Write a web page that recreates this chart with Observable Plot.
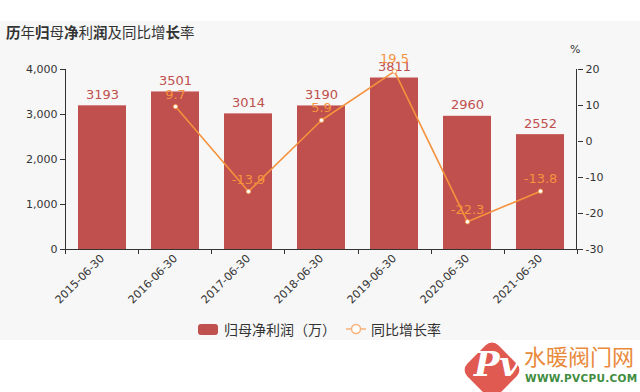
<!DOCTYPE html>
<html><head><meta charset="utf-8">
<script src="https://cdn.jsdelivr.net/npm/d3@7"></script>
<script src="https://cdn.jsdelivr.net/npm/@observablehq/plot@0.6"></script>
<style>
body{margin:0;background:#fff;width:640px;height:392px;overflow:hidden;position:relative;font-family:"DejaVu Sans","Noto Sans CJK SC",sans-serif;}
#bg{position:absolute;left:0;top:21px;width:640px;height:319px;background:#f7f7f7;}
#title{position:absolute;left:6px;top:21px;height:22px;line-height:22px;font-size:14.5px;color:#333;font-family:"Noto Sans CJK SC",sans-serif;}
#title b{font-weight:bold;}
#chart{position:absolute;left:0;top:41px;}
#pct{position:absolute;left:570px;top:43px;font-size:11px;color:#333;}
#legend{position:absolute;left:0;top:318px;width:640px;height:22px;font-size:14px;color:#333;font-family:"Noto Sans CJK SC",sans-serif;}
.lg{position:absolute;top:0;line-height:22px;}
#wm1{position:absolute;left:524px;top:341px;font-size:22px;color:#e98a3c;font-family:"Noto Sans CJK SC",sans-serif;line-height:28px;letter-spacing:0px;}
#wm2{position:absolute;left:525px;top:372px;font-size:10.5px;color:#3f8d3f;font-weight:bold;font-family:"DejaVu Sans",sans-serif;letter-spacing:0.3px;}
#logo{position:absolute;left:470px;top:348px;width:44px;height:44px;background:#e05a52;border-radius:9px;transform:rotate(45deg);}
#logoT{position:absolute;left:474px;top:344px;font-size:34px;color:#fff;font-style:italic;font-family:"DejaVu Serif",serif;font-weight:bold;}
</style></head>
<body>
<div id="bg"></div>
<div id="title"><b>历</b>年<b>归</b>母<b>净</b>利<b>润</b>及同比增<b>长</b>率</div>
<div id="pct">%</div>
<div id="chart"></div>
<div id="legend">
  <svg class="lg" style="left:196px;top:5px" width="24" height="13"><rect x="2" y="1" width="20" height="11" rx="3" fill="#c0504d"/></svg>
  <span class="lg" style="left:224px">归母净利润（万）</span>
  <svg class="lg" style="left:344px;top:2px" width="24" height="18"><line x1="2" x2="22" y1="9" y2="9" stroke="#f7b27c" stroke-width="1.5"/><circle cx="12" cy="9" r="4.5" fill="#fff" stroke="#f7b27c" stroke-width="1.5"/></svg>
  <span class="lg" style="left:371px">同比增长率</span>
</div>
<div id="logo"></div>
<div id="logoT">Pv</div>
<div id="wm1">水暖阀门网</div>
<div id="wm2">WWW.PVCPU.COM</div>
<script>
const dates = ["2015-06-30","2016-06-30","2017-06-30","2018-06-30","2019-06-30","2020-06-30","2021-06-30"];
const profit = [3193, 3501, 3014, 3190, 3811, 2960, 2552];
const growth = [null, 9.7, -13.9, 5.9, 19.5, -22.3, -13.8];
const leftTicks = [0, 1000, 2000, 3000, 4000];
const rightTicks = [-30, -20, -10, 0, 10, 20];

const data = dates.map((d, i) => ({date: d, profit: profit[i], growth: growth[i]}));
const gdata = data.filter(d => d.growth != null);
const yMax = 4000, gMin = -30, gMax = 20;
const toY = g => (g - gMin) / (gMax - gMin) * yMax;
const fromY = v => Math.round(v / yMax * (gMax - gMin) + gMin);

const barColor = "#c0504d", lineColor = "#f5923e";

const chart = Plot.plot({
  width: 640, height: 270,
  marginTop: 28, marginBottom: 62, marginLeft: 65, marginRight: 63,
  style: {background: "transparent", fontFamily: "DejaVu Sans", fontSize: "11px", color: "#333"},
  x: {domain: dates, paddingInner: 0.34, paddingOuter: 0.17, label: null},
  y: {domain: [0, yMax], label: null},
  marks: [
    Plot.barY(data, {x: "date", y: "profit", fill: barColor}),
    Plot.axisX({tickRotate: -45, tickSize: 0, tickPadding: 7, fontSize: 11, fill: "#333"}),
    Plot.axisY({ticks: leftTicks, tickFormat: d3.format(","), tickSize: 5, tickPadding: 3, fill: "#333", stroke: "#333"}),
    Plot.axisY({anchor: "right", ticks: rightTicks.map(toY), tickFormat: fromY, tickSize: 5, tickPadding: 3, fill: "#333", stroke: "#333"}),
    (index, scales, values, dim) => {
      const g = d3.create("svg:g").attr("stroke", "#333").attr("stroke-width", 1);
      const l = dim.marginLeft, r = dim.width - dim.marginRight;
      const t = dim.marginTop, b = dim.height - dim.marginBottom;
      g.append("line").attr("x1", l).attr("x2", r).attr("y1", b + 0.5).attr("y2", b + 0.5);
      g.append("line").attr("x1", l + 0.5).attr("x2", l + 0.5).attr("y1", t).attr("y2", b);
      g.append("line").attr("x1", r - 0.5).attr("x2", r - 0.5).attr("y1", t).attr("y2", b);
      const step = (r - l) / dates.length;
      for (let i = 0; i <= dates.length; i++) {
        const x = Math.round(l + i * step) + 0.5;
        g.append("line").attr("x1", x).attr("x2", x).attr("y1", b).attr("y2", b + 5);
      }
      return g.node();
    },
    Plot.text(data, {x: "date", y: "profit", text: d => String(d.profit), dy: -11, fill: barColor, fontSize: 13}),
    Plot.line(gdata, {x: "date", y: d => toY(d.growth), stroke: lineColor, strokeWidth: 1.6}),
    Plot.dot(gdata, {x: "date", y: d => toY(d.growth), r: 2.2, fill: "#fff", stroke: lineColor, strokeWidth: 0.8}),
    Plot.text(gdata, {x: "date", y: d => toY(d.growth), text: d => String(d.growth), dy: -12, fill: lineColor, fontSize: 13})
  ]
});
document.getElementById("chart").appendChild(chart);
</script>
</body></html>
